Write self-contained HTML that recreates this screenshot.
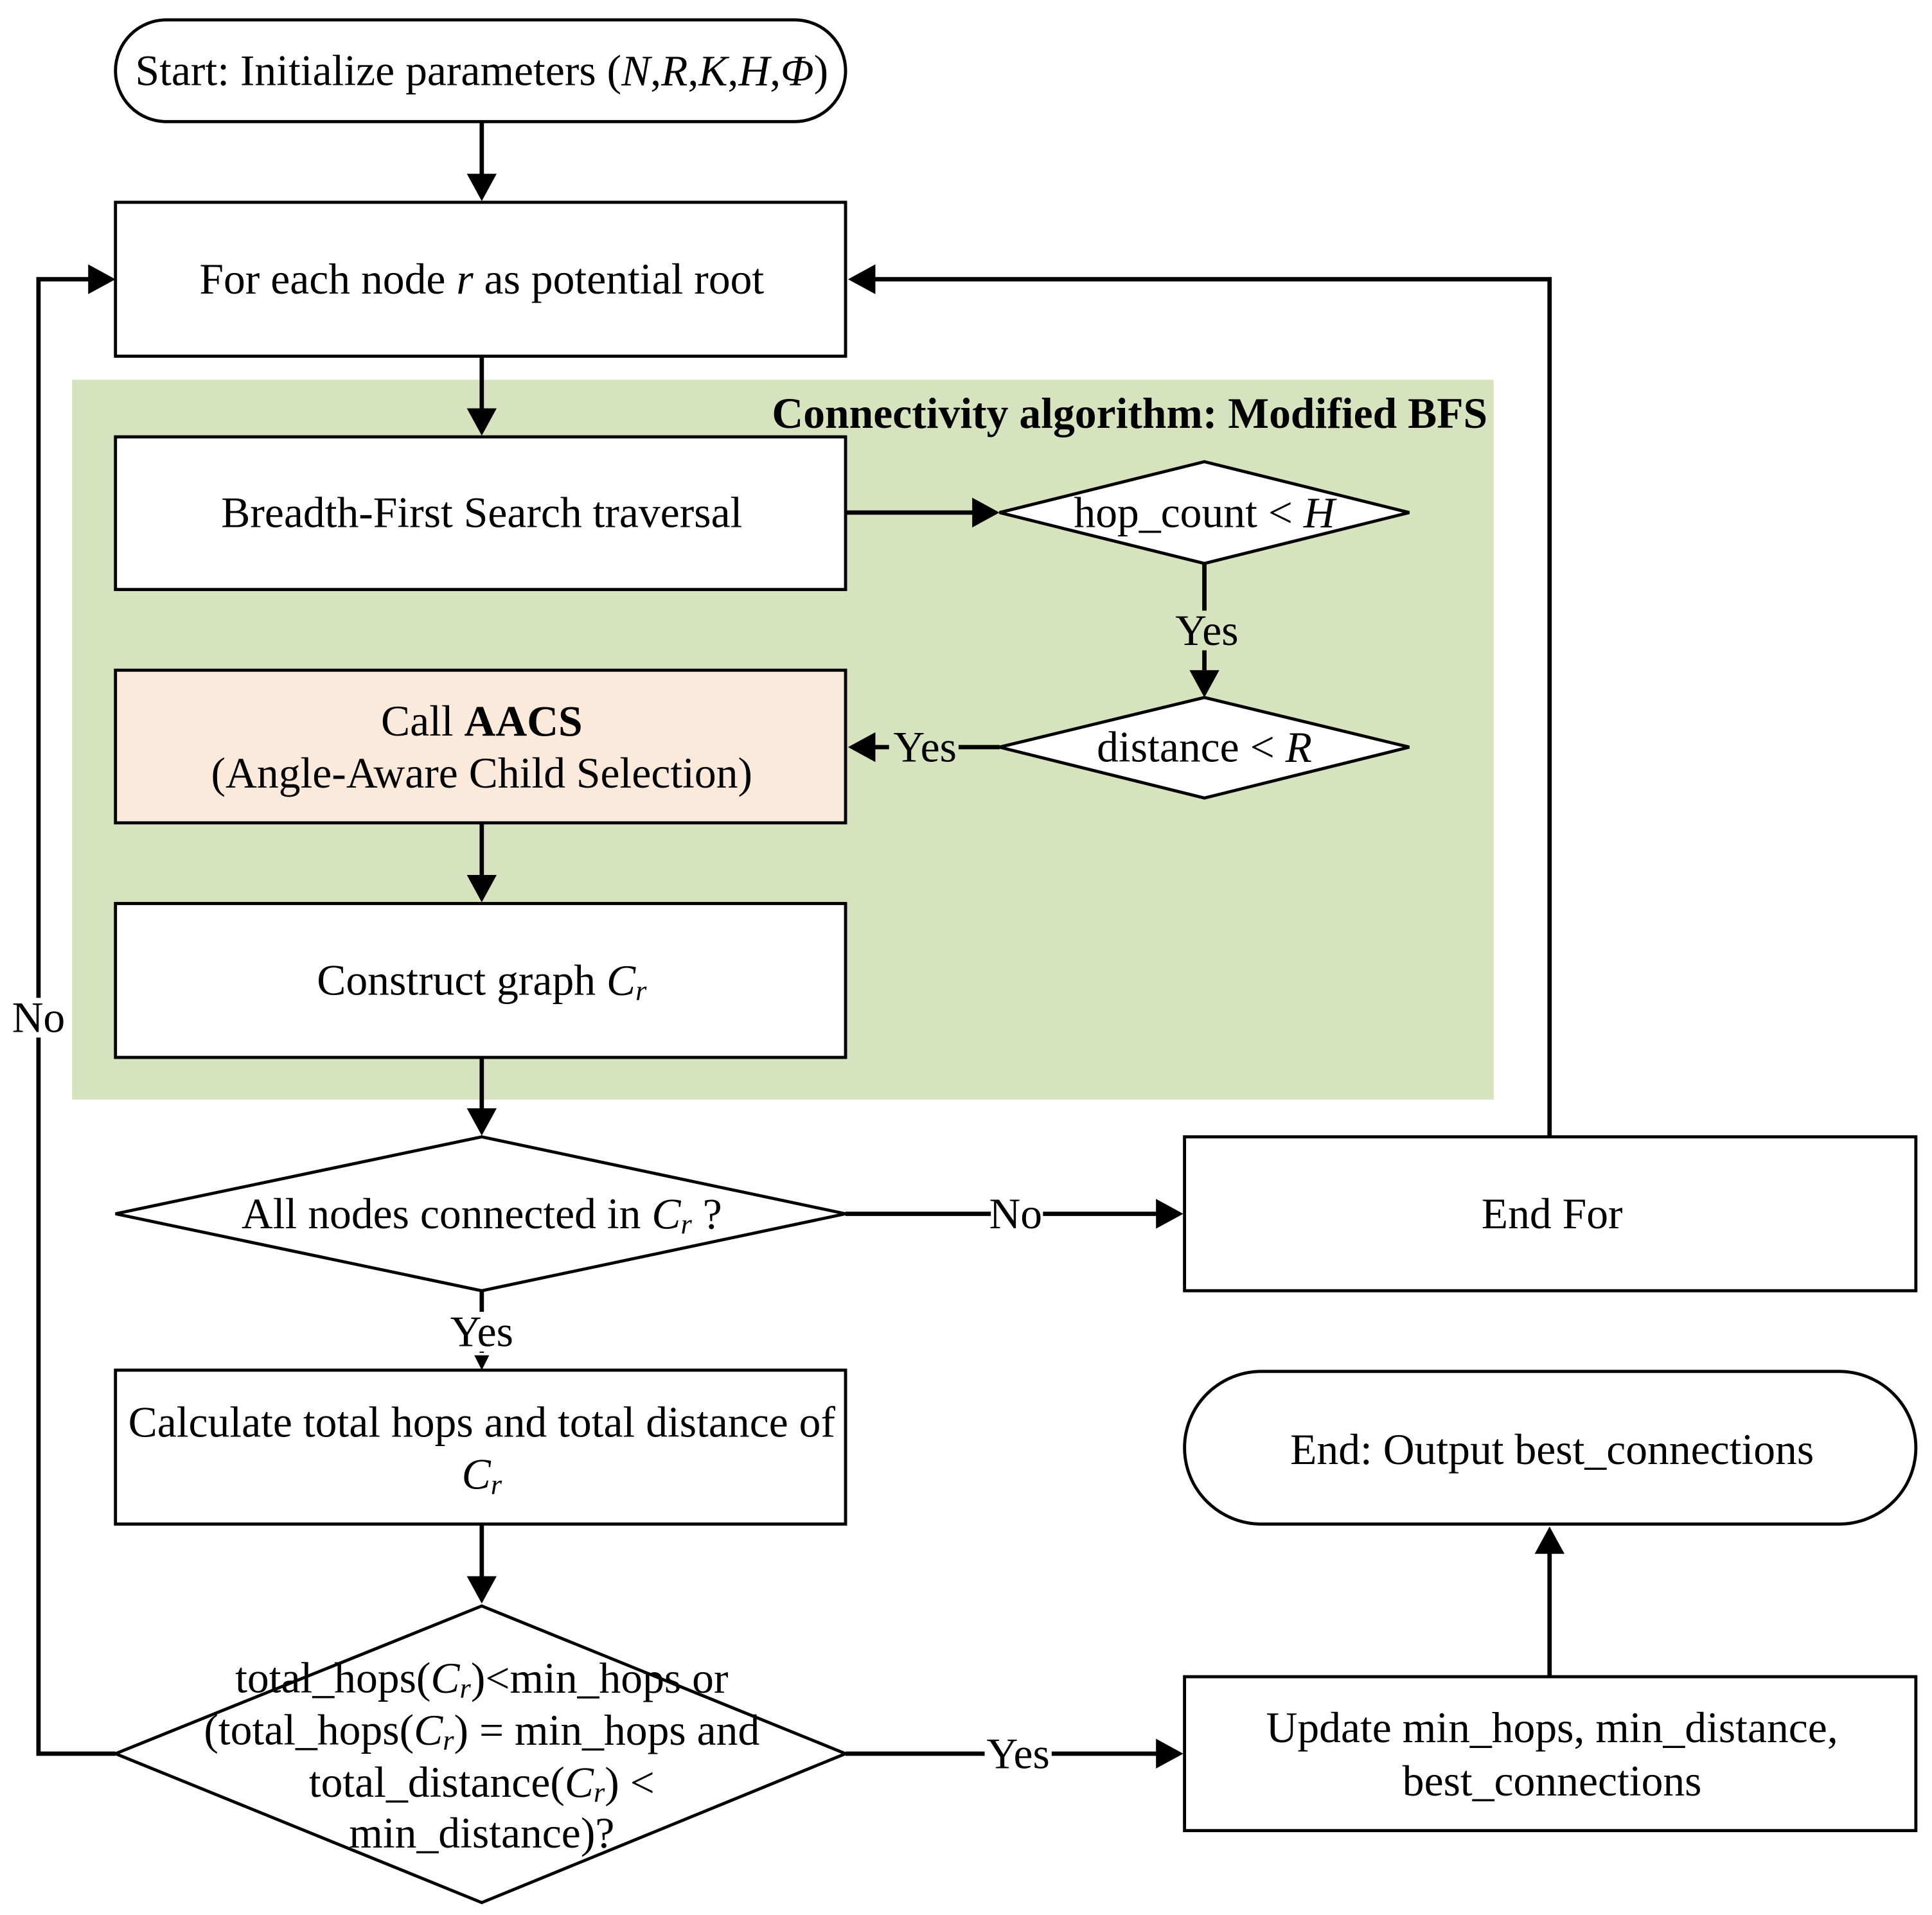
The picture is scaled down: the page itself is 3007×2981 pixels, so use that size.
<!DOCTYPE html>
<html><head><meta charset="utf-8"><style>
html,body{margin:0;padding:0;background:#fff;}
svg{display:block;}
text{font-family:"Liberation Serif",serif;font-size:35px;fill:#000;}
</style></head><body>
<svg width="3007" height="2981" viewBox="0 0 1556 1543" preserveAspectRatio="none" xmlns="http://www.w3.org/2000/svg">
<rect x="0" y="0" width="1556" height="1543" fill="#fff"/>
<rect x="58" y="306" width="1145" height="580" fill="#d7e3bf"/>
<g fill="none" stroke="#000" stroke-width="2.5">
<rect x="93" y="16" width="588" height="82" rx="41"/>
<rect x="93" y="163" width="588" height="124" fill="#fff"/>
<rect x="93" y="352" width="588" height="123" fill="#fff"/>
<rect x="93" y="540" width="588" height="123" fill="#fbe9dc"/>
<rect x="93" y="728" width="588" height="124" fill="#fff"/>
<rect x="93" y="1104" width="588" height="124" fill="#fff"/>
<rect x="954" y="916" width="589" height="124" fill="#fff"/>
<rect x="954" y="1351" width="589" height="124" fill="#fff"/>
<rect x="954" y="1105" width="589" height="123" rx="62" fill="#fff"/>
<polygon points="805,413 970,372 1135,413 970,454" fill="#fff"/>
<polygon points="805,602 970,562 1135,602 970,643" fill="#fff"/>
<polygon points="93,978 388,916 681,978 388,1040" fill="#fff"/>
<polygon points="93,1413 388,1294 681,1413 388,1533" fill="#fff"/>
</g>
<g fill="none" stroke="#000" stroke-width="3.5">
<path d="M388 98V142"/><path d="M388 287V331"/><path d="M388 663V707"/><path d="M388 852V895"/>
<path d="M388 1040V1090"/><path d="M388 1228V1272"/>
<path d="M681 413H785"/><path d="M970 454V540"/><path d="M805 602H703"/>
<path d="M681 978H933"/><path d="M1248 916V225H703"/>
<path d="M93 1413H31V225H73"/><path d="M681 1413H933"/><path d="M1248 1351V1250"/>
</g>
<g fill="#000">
<polygon points="388,162 376,140 400,140"/>
<polygon points="388,351 376,329 400,329"/>
<polygon points="388,727 376,705 400,705"/>
<polygon points="388,915 376,893 400,893"/>
<polygon points="388,1104 382,1092 394,1092"/>
<polygon points="388,1292 376,1270 400,1270"/>
<polygon points="805,413 783,401 783,425"/>
<polygon points="970,562 958,540 982,540"/>
<polygon points="683,602 705,590 705,614"/>
<polygon points="953,978 931,966 931,990"/>
<polygon points="683,225 705,213 705,237"/>
<polygon points="93,225 71,213 71,237"/>
<polygon points="953,1413 931,1401 931,1425"/>
<polygon points="1248,1230 1236,1252 1260,1252"/>
</g>
<rect x="716" y="586" width="56" height="32" fill="#d7e3bf"/>
<rect x="946" y="492" width="52" height="32" fill="#d7e3bf"/>
<rect x="798" y="962" width="42" height="32" fill="#fff"/>
<rect x="793" y="1397" width="54" height="32" fill="#fff"/>
<rect x="10" y="804" width="42" height="32" fill="#fff"/>
<rect x="362" y="1057" width="52" height="32" fill="#fff"/>
<g text-anchor="middle" dominant-baseline="central">
<text x="388" y="57">Start: Initialize parameters (<tspan font-style="italic">N</tspan>,<tspan font-style="italic">R</tspan>,<tspan font-style="italic">K</tspan>,<tspan font-style="italic">H</tspan>,<tspan font-style="italic">Φ</tspan>)</text>
<text x="388" y="225">For each node <tspan font-style="italic">r</tspan> as potential root</text>
<text x="388" y="413">Breadth-First Search traversal</text>
<text x="388" y="581">Call <tspan font-weight="bold">AACS</tspan></text>
<text x="388" y="623">(Angle-Aware Child Selection)</text>
<text x="388" y="790">Construct graph <tspan font-style="italic">C<tspan font-size="23" dy="8">r</tspan></tspan></text>
<text x="388" y="978">All nodes connected in <tspan font-style="italic">C<tspan font-size="23" dy="8">r</tspan></tspan><tspan dy="-8"> ?</tspan></text>
<text x="388" y="1146">Calculate total hops and total distance of</text>
<text x="388" y="1188" font-style="italic">C<tspan font-size="23" dy="8">r</tspan></text>
<text x="388" y="1352">total_hops(<tspan font-style="italic">C<tspan font-size="23" dy="8">r</tspan></tspan><tspan dy="-8">)&lt;min_hops or</tspan></text>
<text x="388" y="1394">(total_hops(<tspan font-style="italic">C<tspan font-size="23" dy="8">r</tspan></tspan><tspan dy="-8">) = min_hops and</tspan></text>
<text x="388" y="1436">total_distance(<tspan font-style="italic">C<tspan font-size="23" dy="8">r</tspan></tspan><tspan dy="-8">) &lt;</tspan></text>
<text x="388" y="1477">min_distance)?</text>
<text x="970" y="413">hop_count &lt; <tspan font-style="italic">H</tspan></text>
<text x="970" y="602">distance &lt; <tspan font-style="italic">R</tspan></text>
<text x="1250" y="978">End For</text>
<text x="1250" y="1168">End: Output best_connections</text>
<text x="1250" y="1392">Update min_hops, min_distance,</text>
<text x="1250" y="1435">best_connections</text>
<text x="972" y="508">Yes</text>
<text x="745" y="602">Yes</text>
<text x="818" y="978">No</text>
<text x="820" y="1413">Yes</text>
<text x="31" y="820">No</text>
<text x="388" y="1073">Yes</text>
</g>
<text x="1198" y="333" text-anchor="end" dominant-baseline="central" font-weight="bold">Connectivity algorithm: Modified BFS</text>
</svg>
</body></html>
